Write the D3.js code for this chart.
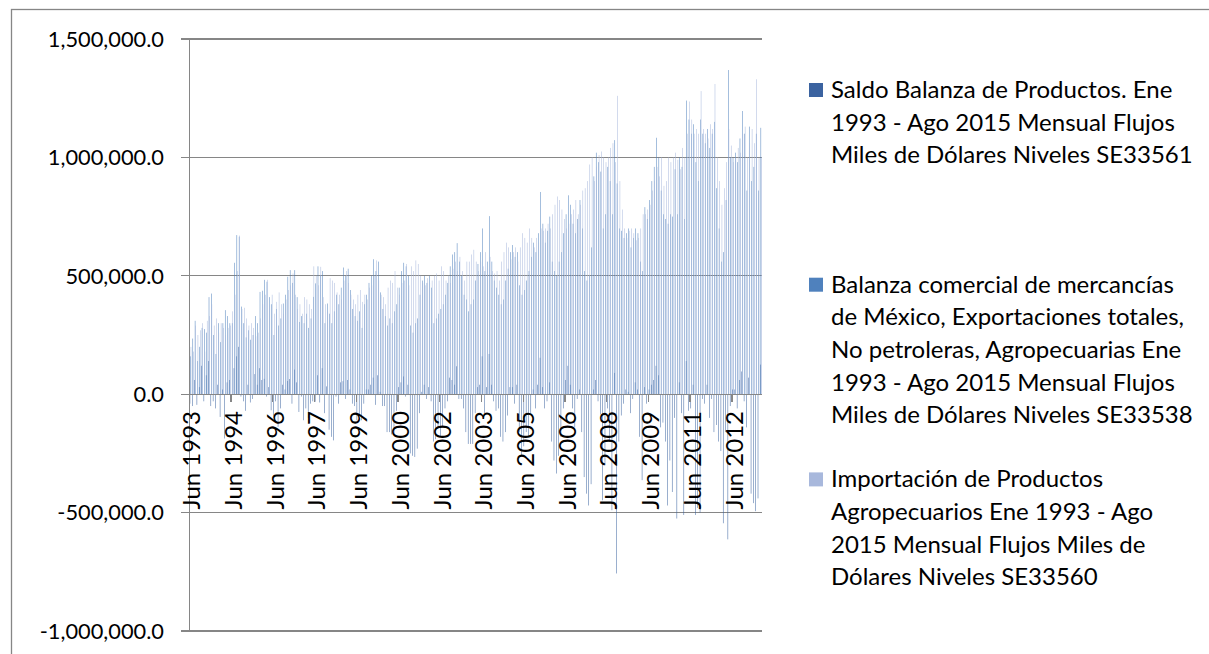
<!DOCTYPE html>
<html>
<head>
<meta charset="utf-8">
<script src="https://cdn.jsdelivr.net/npm/d3@7/dist/d3.min.js"></script>
<style>
	body{margin:0;background:#fff;}
	svg{display:block;font-family:Lato, "Open Sans", sans-serif;}
	.grid{stroke:#868686;stroke-width:1.3;shape-rendering:crispEdges;}
	.axis-line{stroke:#868686;stroke-width:1.3;shape-rendering:crispEdges;}
	.y-text{font-size:21.8px;fill:#000;}
	.x-text{font-size:24px;fill:#000;}
	.lg-text{font-size:24px;fill:#000;}
</style>
</head>
<body>
<svg class="chart" width="1209" height="654"></svg>
<script>
// monthly values, in thousands of dollars
var saldo = [
	-40, -50, 60, -45, 30, 120, -30, 80, 140, -50, -30, -60, 40, -96, 20, -187, 50, 60,
	-20, 110, 160, 200, -10, -30, -70, 40, -35, -20, 85, 40, 110, 60, 65, -10, 30, -68,
	-90, -30, -138, -60, 40, 20, 56, 64, -40, 104, 50, -75, -10, -110, -60, -100, -40, -30,
	-32, 80, -35, 110, -80, 33, -150, -180, -195, -10, -40, 50, 55, -20, 60, 20, -40, -50,
	-110, -90, -110, -40, 20, 20, 40, 70, -45, 80, 10, -50, -50, -160, -160, -170, -170, -70,
	30, 50, 75, -10, 40, -250, -260, -265, -230, -80, 10, 40, -20, 30, -30, -200, -190, -140,
	-180, -140, -60, -30, 70, 60, 40, 118, -20, -20, -60, -160, -210, -210, -210, -80, 30, 40,
	160, -80, 30, 170, 40, -30, -70, -60, -180, -200, -160, -90, 30, 30, -40, 40, -160, -260,
	-220, -160, -180, -80, 20, -60, 40, 154, 30, -60, -30, 50, -200, -280, -335, -260, -180, -60,
	60, 120, 40, -60, -140, -20, 20, -160, -350, -420, -470, -380, 20, 60, -30, -85, -448, -300,
	-60, -200, -490, 90, -757, -200, -90, -40, 20, 10, -80, -20, 50, 20, -180, -363, 30, -40,
	20, 40, 60, 120, 80, -140, -120, -200, -470, -280, -413, -100, -525, 50, -80, -510, 140, -70,
	-60, 40, -510, -480, -500, -20, -40, 40, -100, -20, -160, -130, -200, -240, -545, -160, -613, -50,
	20, 20, -60, 60, 96, -30, -140, 70, -420, -460, -494, -440, 125
];

var exportaciones = [
	160, 235, 310, 140, 200, 280, 275, 260, 410, 425, 250, 170, 300, 220, 300, 355, 330, 300,
	300, 555, 672, 665, 370, 300, 240, 270, 230, 250, 330, 300, 432, 437, 483, 475, 410, 380,
	250, 360, 290, 320, 383, 420, 496, 524, 470, 524, 410, 305, 330, 300, 340, 280, 320, 411,
	468, 540, 503, 520, 300, 383, 340, 300, 350, 420, 380, 450, 535, 500, 530, 440, 360, 330,
	310, 350, 280, 380, 420, 470, 500, 570, 520, 560, 430, 360, 330, 290, 320, 300, 350, 380,
	450, 520, 555, 540, 500, 290, 260, 300, 320, 420, 480, 500, 470, 500, 450, 300, 320, 340,
	360, 380, 420, 470, 540, 590, 600, 638, 560, 500, 420, 400, 350, 380, 400, 480, 550, 600,
	700, 520, 560, 752, 560, 480, 450, 420, 380, 400, 480, 530, 600, 630, 580, 600, 460, 420,
	440, 480, 520, 580, 640, 600, 680, 854, 720, 640, 690, 750, 560, 520, 500, 560, 600, 680,
	760, 840, 800, 720, 680, 740, 820, 700, 520, 480, 500, 620, 920, 1020, 980, 940, 700, 760,
	960, 900, 760, 1073, 890, 700, 690, 660, 680, 700, 620, 660, 700, 680, 560, 520, 790, 740,
	820, 900, 960, 1083, 1000, 860, 760, 740, 720, 760, 750, 950, 760, 1000, 960, 740, 1240, 1160,
	1100, 1140, 980, 900, 1160, 1100, 1060, 1120, 1040, 1100, 1150, 870, 700, 560, 600, 820, 1369, 1000,
	1000, 1020, 980, 1080, 1196, 1100, 860, 1130, 900, 960, 1100, 860, 1125
];

var importaciones = [
	200, 180, 290, 250, 270, 300, 180, 310, 330, 380, 290, 320, 260, 300, 280, 250, 280, 290,
	350, 420, 520, 670, 360, 365, 320, 290, 300, 280, 245, 260, 320, 380, 420, 483, 380, 420,
	340, 390, 430, 380, 340, 400, 440, 460, 510, 420, 360, 380, 340, 410, 400, 380, 360, 540,
	500, 460, 538, 410, 380, 350, 490, 480, 470, 430, 420, 400, 480, 520, 470, 420, 400, 380,
	420, 440, 390, 420, 400, 450, 460, 500, 565, 480, 420, 410, 380, 450, 480, 470, 520, 450,
	420, 470, 480, 550, 460, 540, 520, 565, 550, 500, 470, 460, 490, 470, 480, 500, 510, 480,
	540, 520, 480, 500, 470, 530, 560, 520, 580, 520, 480, 560, 560, 590, 610, 560, 520, 560,
	540, 600, 530, 580, 520, 510, 520, 480, 560, 600, 640, 620, 570, 600, 620, 560, 620, 680,
	660, 640, 700, 660, 620, 660, 640, 700, 690, 700, 720, 700, 760, 800, 835, 820, 780, 740,
	700, 720, 760, 780, 820, 760, 800, 860, 870, 900, 970, 1000, 900, 960, 1010, 1025, 1000, 980,
	1000, 1040, 1060, 980, 1260, 900, 780, 700, 660, 690, 700, 680, 650, 660, 700, 760, 760, 780,
	800, 860, 900, 960, 920, 1000, 880, 900, 1000, 980, 1000, 1020, 990, 950, 1040, 1000, 1100, 1236,
	1160, 1100, 1120, 1100, 1280, 1120, 1100, 1080, 1140, 1120, 1310, 1000, 900, 800, 870, 980, 1120, 1050,
	980, 1000, 1040, 1020, 1100, 1130, 1000, 1060, 1120, 1060, 1330, 1000, 1000
];

// one label every 18 categories, as the axis shows them
var tickLabels = ['Jun 1993', 'Jun 1994', 'Jun 1996', 'Jun 1997', 'Jun 1999', 'Jun 2000', 'Jun 2002',
	'Jun 2003', 'Jun 2005', 'Jun 2006', 'Jun 2008', 'Jun 2009', 'Jun 2011', 'Jun 2012'];
var labelStep = 18;

var yTicks = [-1000000, -500000, 0, 500000, 1000000, 1500000];

var seriesNames = [
	['Saldo Balanza de Productos. Ene', '1993 - Ago 2015 Mensual Flujos', 'Miles de Dólares Niveles SE33561'],
	['Balanza comercial de mercancías', 'de México, Exportaciones totales,', 'No petroleras, Agropecuarias Ene',
		'1993 - Ago 2015 Mensual Flujos', 'Miles de Dólares Niveles SE33538'],
	['Importación de Productos', 'Agropecuarios Ene 1993 - Ago', '2015 Mensual Flujos Miles de', 'Dólares Niveles SE33560']
];
var seriesColors = ['#3b63a0', '#4f81bd', '#a8b8dc'];

(function(){
	var svg = d3.select('.chart');
	var series = [saldo, exportaciones, importaciones];
	var n = saldo.length;

	var plot = {left:189.3, right:762, top:39, bottom:631};

	var x = d3.scaleBand()
		.domain(d3.range(n))
		.range([plot.left, plot.right])
		.paddingInner(0)
		.paddingOuter(0);

	// three bars per month, gap of 150% like the default column chart
	var xs = d3.scaleBand()
		.domain([0, 1, 2])
		.range([0, x.bandwidth()])
		.paddingInner(0)
		.paddingOuter(0.75);

	var y = d3.scaleLinear()
		.domain([-1000000, 1500000])
		.range([plot.bottom, plot.top]);

	// plain hyphen for negatives, as in the spreadsheet
	var fmt = d3.formatLocale({decimal:'.', thousands:',', grouping:[3], currency:['', ''], minus:'-'}).format(',.1f');

	function addLine(g, x1, y1, x2, y2, css){
		return g.append('line')
			.attr('x1', x1).attr('y1', y1)
			.attr('x2', x2).attr('y2', y2)
			.attr('class', css);
	}

	// chart frame (only top and left sides fall inside the picture)
	svg.append('rect')
		.attr('x', 11.5).attr('y', 9.5)
		.attr('width', 1220).attr('height', 680)
		.attr('fill', 'none')
		.attr('stroke', '#868686')
		.attr('stroke-width', 1.3);

	var gGrid = svg.append('g');
	yTicks.forEach(function(v){
		if(v === 0) return;
		addLine(gGrid, plot.left - 8, y(v), plot.right, y(v), 'grid');
	});

	// bars
	var gBars = svg.append('g');
	series.forEach(function(vals, s){
		gBars.append('g')
			.attr('fill', seriesColors[s])
			.selectAll('rect')
			.data(vals)
			.join('rect')
			.attr('x', function(d, i){ return x(i) + xs(s); })
			.attr('width', xs.bandwidth())
			.attr('y', function(d){ return y(Math.max(0, d * 1000)); })
			.attr('height', function(d){ return Math.abs(y(d * 1000) - y(0)); });
	});

	// axes
	var gAxis = svg.append('g');
	addLine(gAxis, plot.left, plot.top, plot.left, plot.bottom, 'axis-line');
	addLine(gAxis, plot.left - 8, y(0), plot.right, y(0), 'axis-line');

	yTicks.forEach(function(v){
		gAxis.append('text')
			.attr('class', 'y-text')
			.attr('x', 164)
			.attr('y', y(v))
			.attr('dy', '0.36em')
			.attr('text-anchor', 'end')
			.text(fmt(v));
	});

	tickLabels.forEach(function(label, k){
		var i = k * labelStep;
		addLine(gAxis, x(i), y(0), x(i), y(0) + 7.5, 'axis-line');
		var cx = x(i) + x.bandwidth() / 2 + 1;
		gAxis.append('text')
			.attr('class', 'x-text')
			.attr('transform', 'translate(' + cx + ',' + 411 + ') rotate(-90)')
			.attr('dy', '0.36em')
			.attr('text-anchor', 'end')
			.text(label);
	});

	// legend
	var gLegend = svg.append('g');
	seriesNames.forEach(function(lines, s){
		var base = 98 + s * 194.7;
		gLegend.append('rect')
			.attr('x', 809).attr('y', base - 15)
			.attr('width', 14).attr('height', 14)
			.attr('fill', seriesColors[s]);
		lines.forEach(function(line, j){
			gLegend.append('text')
				.attr('class', 'lg-text')
				.attr('x', 831)
				.attr('y', base + j * 32.6)
				.text(line);
		});
	});
})();
</script>
</body>
</html>
